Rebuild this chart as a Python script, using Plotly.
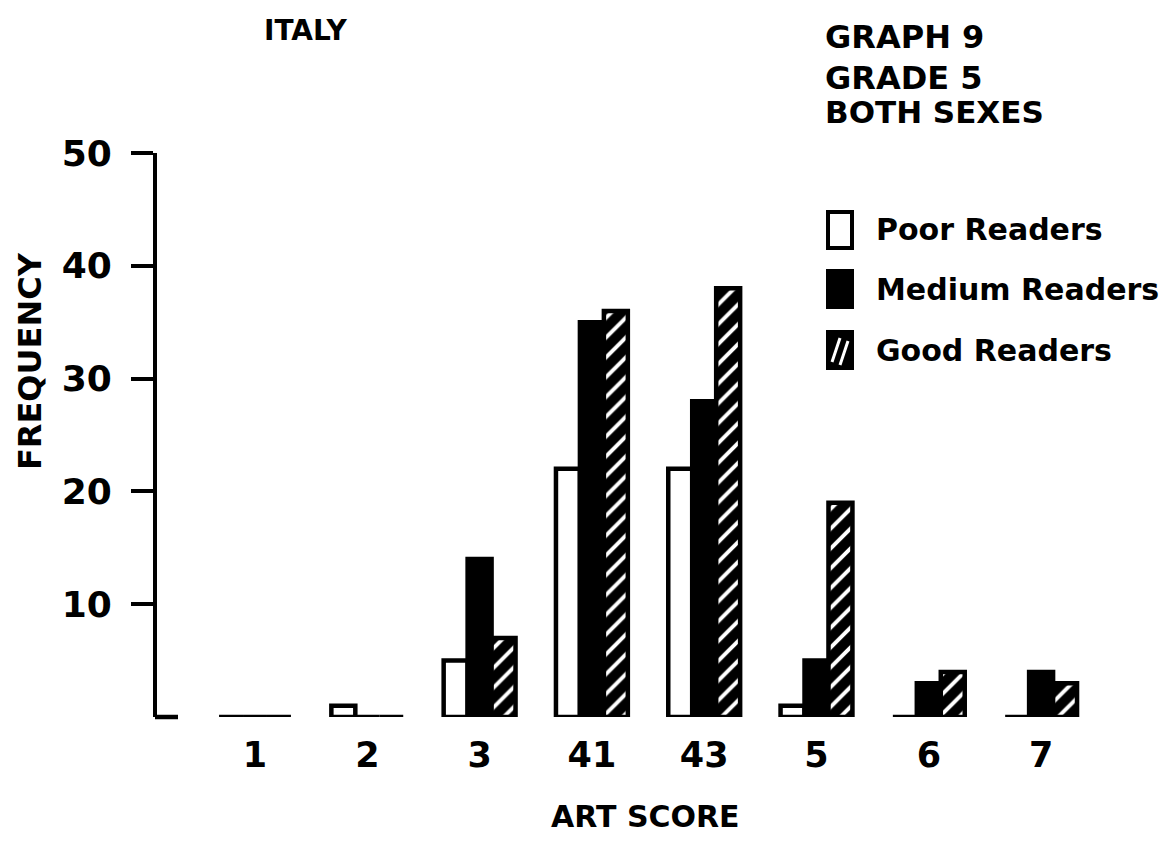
import plotly.graph_objects as go

# ---------------- data ----------------
categories = ["1", "2", "3", "41", "43", "5", "6", "7"]
poor_readers = [0, 1, 5, 22, 22, 1, 0, 0]
medium_readers = [0, 0, 14, 35, 28, 5, 3, 4]
good_readers = [0, 0, 7, 36, 38, 19, 4, 3]
y_tick_values = [10, 20, 30, 40, 50]
y_tick_labels = ["10", "20", "30", "40", "50"]

# ---------------- geometry (page pixels) ----------------
PAGE_OFF = 8                      # default body margin of the html page
W_FIG, H_FIG = 1171 - 2 * PAGE_OFF, 841 - 2 * PAGE_OFF
L, R, T, B = 157, 1080, 153, 717  # plot area edges in page pixels
PW, PH = R - L, B - T
first_center, step = 255, 112.3

def px(xp):
    return (xp - L) / PW

def py(yp):
    return (B - yp) / PH

FONT = "DejaVu Sans"
BLACK = "#000000"

fig = go.Figure()

fig.add_trace(go.Bar(
    x=categories, y=poor_readers, name="Poor Readers",
    marker=dict(color="white", line=dict(color=BLACK, width=4.5)),
))
fig.add_trace(go.Bar(
    x=categories, y=medium_readers, name="Medium Readers",
    marker=dict(color=BLACK, line=dict(color=BLACK, width=4.5)),
))
fig.add_trace(go.Bar(
    x=categories, y=good_readers, name="Good Readers",
    marker=dict(color=BLACK, line=dict(color=BLACK, width=4.5),
                pattern=dict(shape="/", fgcolor="white", bgcolor=BLACK,
                             fgopacity=1, size=14, solidity=0.28,
                             fillmode="replace")),
))

x_lo = -(first_center - L) / step
x_hi = (R - first_center) / step

fig.update_layout(
    width=W_FIG, height=H_FIG,
    margin=dict(l=L - PAGE_OFF, r=W_FIG - (R - PAGE_OFF), t=T - PAGE_OFF,
                b=H_FIG - (B - PAGE_OFF), pad=0),
    paper_bgcolor="white", plot_bgcolor="white",
    barmode="group", bargap=0.36, bargroupgap=0,
    showlegend=False,
    font=dict(family=FONT, color=BLACK, weight="bold"),
    xaxis=dict(
        type="category", range=[x_lo, x_hi], showline=False, showgrid=False,
        zeroline=False, ticks="", tickfont=dict(size=35, family=FONT, weight="bold"),
        ticklabelstandoff=14, fixedrange=True,
    ),
    yaxis=dict(
        range=[0, 50], showline=True, linecolor=BLACK, linewidth=4,
        showgrid=False, zeroline=False, ticks="outside", ticklen=22,
        tickwidth=4, tickcolor=BLACK, tickvals=y_tick_values,
        ticktext=y_tick_labels, tickfont=dict(size=36, family=FONT, weight="bold"),
        ticklabelstandoff=12, fixedrange=True,
    ),
)

# foot of the y axis
shapes = [dict(type="line", xref="paper", yref="paper", x0=px(L - 2), x1=px(178),
               y0=py(B), y1=py(B), line=dict(color=BLACK, width=4.5))]

# legend swatches
bx0, bx1 = 828, 852
for cy, kind in [(230, "poor"), (289, "medium"), (350, "good")]:
    y0, y1 = cy + 18, cy - 18
    fill = "white" if kind == "poor" else BLACK
    shapes.append(dict(type="rect", xref="paper", yref="paper",
                       x0=px(bx0), x1=px(bx1), y0=py(y0), y1=py(y1),
                       fillcolor=fill, line=dict(color=BLACK, width=4)))
    if kind == "good":
        for (xa, ya, xb, yb) in [(832, cy + 12, 840, cy - 12), (840, cy + 15, 848, cy - 9)]:
            shapes.append(dict(type="line", xref="paper", yref="paper",
                               x0=px(xa), y0=py(ya), x1=px(xb), y1=py(yb),
                               line=dict(color="white", width=3)))
fig.update_layout(shapes=shapes)

def label(text, x, y, size, xanchor="left", angle=0):
    fig.add_annotation(text=text, x=px(x), y=py(y), xref="paper", yref="paper",
                       showarrow=False, xanchor=xanchor, yanchor="middle",
                       textangle=angle,
                       font=dict(size=size, family=FONT, color=BLACK, weight="bold"))

label("ITALY", 305, 30, 28, xanchor="center")
label("GRAPH 9", 823, 37, 32)
label("GRADE 5", 823, 78, 32)
label("BOTH SEXES", 823, 112, 31)
label("Poor Readers", 874, 230, 30)
label("Medium Readers", 874, 289, 30)
label("Good Readers", 874, 350, 30)
label("FREQUENCY", 30, 361, 32, xanchor="center", angle=-90)
label("ART SCORE", 645, 816, 30, xanchor="center")

fig.write_html("out.html")
